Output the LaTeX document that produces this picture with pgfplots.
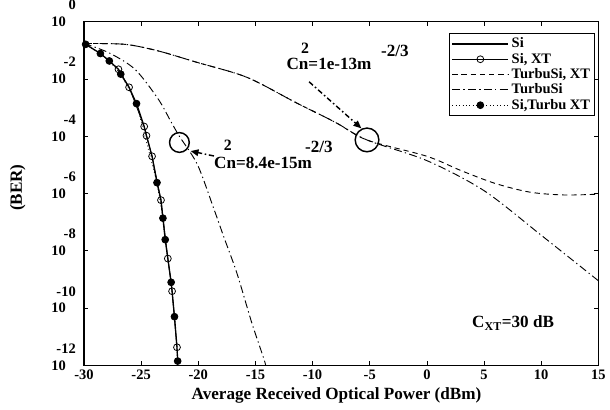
\documentclass[border=0pt]{standalone}
\usepackage{fontspec}
\setmainfont{Liberation Serif}
\usepackage{pgfplots}
\pgfplotsset{compat=1.18}
\usetikzlibrary{arrows.meta}
\newcommand{\ylab}[1]{10\hspace{7.5pt}\llap{\raisebox{12.75pt}[0pt][0pt]{#1}}}
\begin{document}
\begin{tikzpicture}
\begin{axis}[
  scale only axis, width=390.75pt, height=261pt,
  xmin=-30, xmax=15, ymin=1e-12, ymax=1,
  ymode=log, yminorticks=false,
  xtick={-30,-25,...,15},
  xticklabels={-30,-25,-20,-15,-10,-5,0,5,10,15},
  ytick={1,1e-2,1e-4,1e-6,1e-8,1e-10,1e-12},
  yticklabels={\ylab{0},\ylab{-2},\ylab{-4},\ylab{-6},\ylab{-8},\ylab{-10},\ylab{-12}},
  tick align=inside, major tick length=3pt,
  tick style={black, line width=0.5pt},
  xtick pos=both, ytick pos=both,
  xticklabel pos=lower, yticklabel pos=left,
  tick label style={font=\bfseries\fontsize{11}{12}\selectfont},
  yticklabel style={anchor=east, inner sep=0pt, xshift=-6pt},
  axis line style={line width=0.9pt},
  xlabel={Average Received Optical Power (dBm)},
  ylabel={(BER)},
  label style={font=\bfseries\fontsize{13}{14}\selectfont},
  xlabel style={at={(axis description cs:0.491,0)}, anchor=center, yshift=-22.5pt},
  ylabel style={at={(axis description cs:-0.1286,0.517)}, anchor=center},
  legend style={at={(0.994,0.968)}, anchor=north east, draw=black, line width=0.9pt,
    font=\bfseries\fontsize{11}{10}\selectfont, inner sep=1.5pt, row sep=-1.5pt,
    cells={anchor=west}},
  legend cell align=left,
  legend image code/.code={\draw[mark repeat=2,mark phase=2,#1] plot coordinates {(0cm,0cm)(0.75cm,0cm)(1.5cm,0cm)};},
]
% Si
\addplot[black, line width=1pt] coordinates {
(-30,0.1738) (-29.85,0.1622) (-28.56,0.0776) (-27.78,0.0427) (-26.98,0.02188)
(-26.78,0.01479) (-26.05,5.13e-3) (-25.40,1.38e-3) (-24.73,2.19e-4) (-24.53,1.05e-4)
(-24.04,2.0e-5) (-23.61,2.4e-6) (-23.26,5.89e-7) (-23.09,1.38e-7) (-22.89,2.45e-8)
(-22.66,5.37e-9) (-22.37,7.94e-10) (-22.29,3.89e-10) (-22.08,5.01e-11) (-21.86,4.27e-12)
(-21.80,1.41e-12)};
\addlegendentry{Si}
% Si, XT
\addplot[black, line width=0.6pt, mark=o, mark size=2.6pt, mark options={solid}] coordinates {
(-26.98,0.02188) (-26.05,5.13e-3) (-24.73,2.19e-4) (-24.53,1.05e-4) (-24.04,2.0e-5)
(-23.26,5.89e-7) (-22.66,5.37e-9) (-22.29,3.89e-10) (-21.86,4.27e-12)};
\addlegendentry{Si, XT}
% TurbuSi, XT (dashed)
\addplot[black, line width=0.7pt, dash pattern=on 4pt off 3pt, smooth] coordinates {
(-30,0.1738) (-26.4,0.1622) (-23.5,0.0955) (-20.1,0.038) (-15.75,0.01148)
(-11.43,1.48e-3) (-7.98,3.02e-4) (-5.24,7.41e-5) (0,2e-5) (3,6.3e-6) (6,2.24e-6)
(9,1.12e-6) (12,8.9e-7) (15,9.5e-7)};
\addlegendentry{TurbuSi, XT}
% TurbuSi (dash dot)
\addplot[black, line width=0.7pt, dash pattern=on 6pt off 2.5pt on 1pt off 2.5pt, smooth] coordinates {
(-30,0.1738) (-26.4,0.1622) (-23.5,0.0955) (-20.1,0.038) (-15.75,0.01148)
(-11.43,1.48e-3) (-7.98,3.02e-4) (-5.24,7.41e-5) (0,1.41e-5) (5,1.26e-6)
(10,3.5e-8) (15,9e-10)};
\addlegendentry{TurbuSi}
% Si, Turbu XT
\addplot[black, line width=0.6pt, dotted, mark=*, mark size=2.6pt, mark options={solid}] coordinates {
(-29.85,0.1622) (-28.56,0.0776) (-27.78,0.0427) (-26.78,0.01479) (-25.40,1.38e-3)
(-23.61,2.4e-6) (-23.09,1.38e-7) (-22.89,2.45e-8) (-22.37,7.94e-10) (-22.08,5.01e-11)
(-21.80,1.41e-12)};
\addlegendentry{Si,Turbu XT}
% weak turbulence curve
\addplot[black, line width=0.7pt, dash pattern=on 6pt off 2.5pt on 1pt off 2.5pt, smooth, forget plot] coordinates {
(-30,0.1738) (-27.84,0.0832) (-25.54,0.02188) (-23.52,2.04e-3) (-22.40,3.31e-4)
(-21.65,1e-4) (-20.07,1.02e-5) (-18.63,2.88e-7) (-17.76,3.02e-8) (-16.62,1.66e-9)
(-15.32,3.09e-11) (-14.17,1.29e-12) (-14.0,5e-13)};
% annotations
\draw[line width=1.1pt] (rel axis cs:0.1856,0.6486) circle[radius=7.5pt];
\draw[line width=1.1pt] (rel axis cs:0.5503,0.656) circle[radius=9pt];
\draw[line width=1.1pt, dash pattern=on 4pt off 2pt on 1.2pt off 2pt, -{Triangle[length=6pt,width=5pt]}]
  (rel axis cs:0.2528,0.6092) -- (rel axis cs:0.2073,0.6236);
\draw[line width=1.1pt, dash pattern=on 4pt off 2pt on 1.2pt off 2pt, -{Triangle[length=6pt,width=5pt]}]
  (rel axis cs:0.4376,0.8253) -- (rel axis cs:0.5393,0.6897);
\begin{scope}[every node/.style={font=\bfseries\fontsize{13}{14}\selectfont, inner sep=0pt}]
\node[anchor=west] at (rel axis cs:0.2528,0.589) {Cn=8.4e-15m};
\node[font=\bfseries\fontsize{12}{13}\selectfont] at (rel axis cs:0.2796,0.640) {2};
\node at (rel axis cs:0.4568,0.636) {-2/3};
\node[anchor=west] at (rel axis cs:0.3935,0.8764) {Cn=1e-13m};
\node[font=\bfseries\fontsize{12}{13}\selectfont] at (rel axis cs:0.43,0.923) {2};
\node at (rel axis cs:0.6046,0.915) {-2/3};
\node[anchor=west] at (rel axis cs:0.7543,0.1236) {C\textsubscript{XT}=30 dB};
\end{scope}
\end{axis}
\path[use as bounding box] (-63.75pt,-33.75pt) rectangle (393.75pt,277.5pt);
\end{tikzpicture}
\end{document}
